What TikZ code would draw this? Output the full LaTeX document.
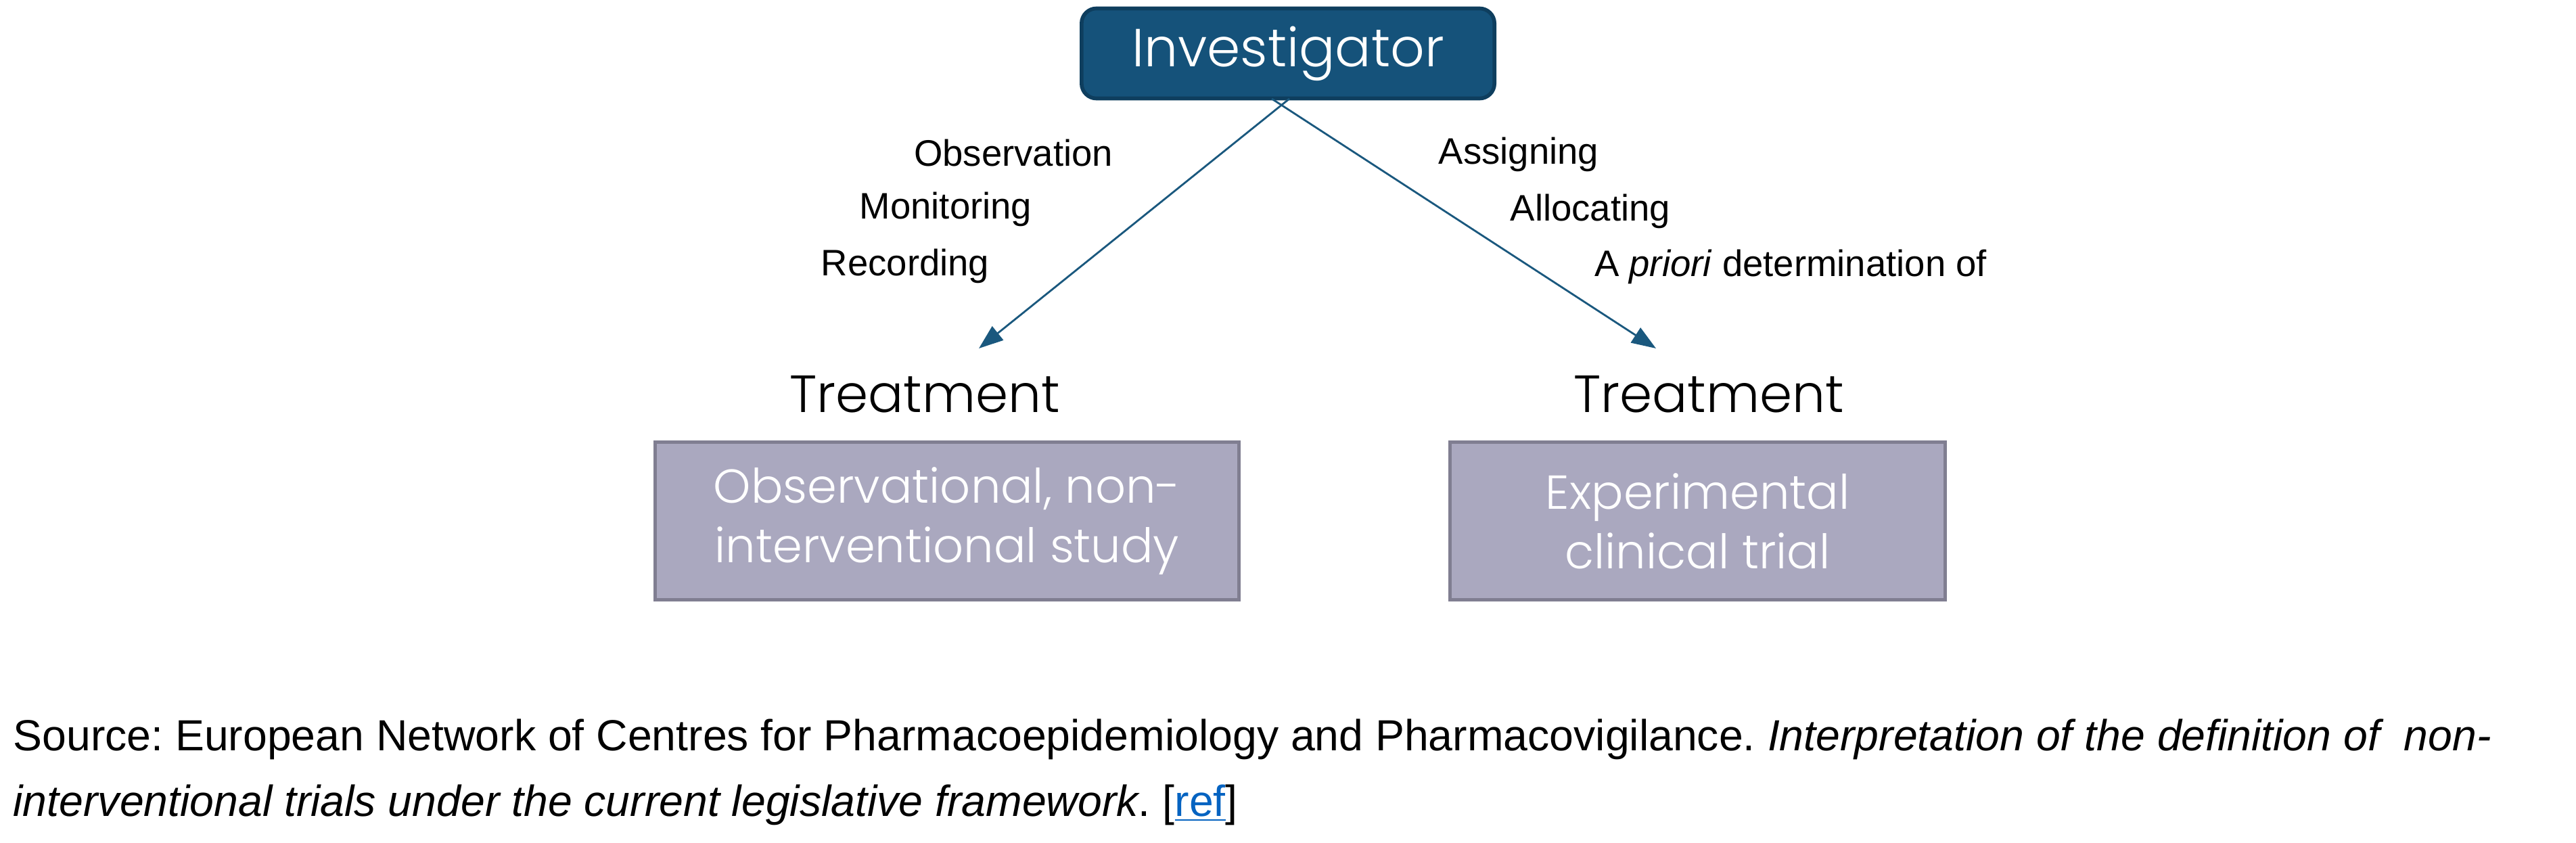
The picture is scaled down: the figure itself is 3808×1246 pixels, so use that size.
\documentclass[tikz,border=0pt]{standalone}
\usepackage{fontspec}
\setmainfont{Liberation Sans}
\IfFontExistsTF{Poppins Light}{\newfontfamily\geo{Poppins Light}}{\newfontfamily\geo{Poppins}}
\usetikzlibrary{arrows.meta}
\frenchspacing
\definecolor{invfill}{RGB}{21,82,122}
\definecolor{invdraw}{RGB}{14,62,94}
\definecolor{arrcol}{RGB}{26,88,126}
\definecolor{boxfill}{RGB}{170,168,191}
\definecolor{boxdraw}{RGB}{128,126,145}
\definecolor{linkblue}{RGB}{5,99,193}
\tikzset{
  invbox/.style={draw=invdraw, fill=invfill, line width=1.6pt, rounded corners=0.22cm, minimum width=6.1cm, minimum height=1.33cm, text=white, font=\geo\fontsize{22.5}{27}\selectfont},
  studybox/.style={draw=boxdraw, fill=boxfill, line width=1.4pt, minimum height=2.33cm, text=white, align=center, font=\geo\fontsize{20}{25}\selectfont},
  treat/.style={font=\geo\fontsize{22}{26}\selectfont},
  lbl/.style={font=\fontsize{15.5}{18}\selectfont},
  conn/.style={draw=arrcol, line width=0.8pt, -{Triangle[length=0.36cm,width=0.26cm]}},
  src/.style={anchor=west, font=\fontsize{18.3}{22}\selectfont, inner sep=0pt}
}
\begin{document}
\begin{tikzpicture}[x=0.01cm,y=-0.01cm]
\path[use as bounding box] (0,0) rectangle (3808,1246);
\node[invbox] (inv) at (1904,79) {Investigator};
\coordinate (sL) at (1906,146);
\coordinate (sR) at (1880,146);
\coordinate (eL) at (1447,515);
\coordinate (eR) at (2448,515);
\draw[conn] (sL) -- (eL);
\draw[conn] (sR) -- (eR);
\node[lbl] (l1) at (1498,226) {Observation};
\node[lbl] (l2) at (1398,309) {Monitoring};
\node[lbl] (l3) at (1338,393) {Recording};
\node[lbl] (r1) at (2245,228) {Assigning};
\node[lbl] (r2) at (2351,312) {Allocating};
\node[lbl] (r3) at (2647,394) {A \textit{priori} determination of};
\node[treat] (tL) at (1367,583) {Treatment};
\node[treat] (tR) at (2526,583) {Treatment};
\node[studybox, minimum width=8.62cm] (bL) at (1400,770) {Observational, non-\\interventional study};
\node[studybox, minimum width=7.31cm] (bR) at (2509.5,770) {Experimental\\clinical trial};
\node[src] (s1) at (19,1093) {Source: European Network of Centres for Pharmacoepidemiology and Pharmacovigilance. \textit{Interpretation of the definition of\ \ non-}};
\node[src] (s2) at (19,1190) {\textit{interventional trials under the current legislative framework}. [\textcolor{linkblue}{\underline{ref}}]};
\end{tikzpicture}
\end{document}
